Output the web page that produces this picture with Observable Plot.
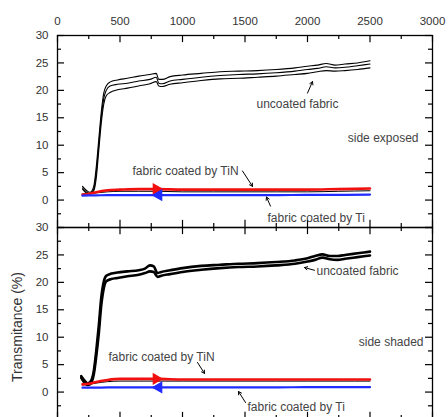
<!DOCTYPE html>
<html>
<head>
<meta charset="utf-8">
<script src="https://cdn.jsdelivr.net/npm/d3@7"></script>
<script src="https://cdn.jsdelivr.net/npm/@observablehq/plot@0.6"></script>
<style>
  html, body { margin: 0; padding: 0; background: #fff; overflow: hidden; }
  #chart { width: 448px; height: 417px; overflow: hidden; }
</style>
</head>
<body>
<div id="chart"></div>
<script>
// ---------- axis ticks ----------
const xMajor = [0, 500, 1000, 1500, 2000, 2500, 3000];
const xMinor = [250, 750, 1250, 1750, 2250, 2750];
const yMajor = [-5, 0, 5, 10, 15, 20, 25, 30];
const yMinor = [-2.5, 2.5, 7.5, 12.5, 17.5, 22.5, 27.5];
const yLabels = [0, 5, 10, 15, 20, 25, 30];
const panels = ["exposed", "shaded"];

// ---------- side exposed ----------
const exposedX = [200,230,260,290,310,330,350,370,390,420,480,560,650,740,790,810,840,900,1000,1150,1300,1450,1600,1750,1900,2000,2080,2150,2220,2300,2400,2500];
const exposedUncoatedA = [2.5,1.8,1.4,2.5,6,11,16,19.5,20.8,21.5,21.9,22.2,22.6,22.9,23.1,22.0,22.0,22.5,22.8,23.1,23.4,23.5,23.6,23.8,24.1,24.4,24.6,24.9,24.6,24.8,25.0,25.4];
const exposedUncoatedB = [2.2,1.5,1.2,2.0,5,10,15,18.5,20.0,20.8,21.1,21.3,21.7,22.0,22.4,21.3,21.2,21.7,22.0,22.4,22.7,22.9,23.0,23.2,23.5,23.8,24.0,24.3,24.1,24.2,24.5,24.8];
const exposedUncoatedC = [2.0,1.3,1.1,1.7,4,9,14,17.5,19.0,19.6,20.1,20.4,20.8,21.2,21.6,20.8,20.7,21.1,21.4,21.8,22.1,22.2,22.4,22.6,22.9,23.1,23.4,23.6,23.5,23.6,23.8,24.1];

const coatedX = [200,250,300,400,500,650,800,1000,1250,1500,1750,2000,2250,2500];
const exposedTiN   = [1.0,1.1,1.4,1.8,1.9,2.0,2.0,1.9,1.9,1.9,1.9,1.9,2.0,2.1];
const exposedTi    = [0.8,0.85,0.85,0.9,0.9,0.9,0.9,0.9,0.9,0.9,0.9,0.95,0.95,1.0];
const exposedBlack = [1.1,1.2,1.3,1.5,1.6,1.6,1.6,1.5,1.5,1.5,1.5,1.5,1.6,1.7];

// ---------- side shaded ----------
const shadedX = [190,220,240,260,290,310,330,350,370,390,430,480,560,650,700,740,770,800,830,900,1000,1150,1300,1450,1600,1750,1900,2000,2060,2120,2180,2240,2300,2400,2500];
const shadedUncoatedUpper = [2.9,2.0,1.6,1.8,3.8,7.5,12,17.2,20.1,21.2,21.6,21.8,22.0,22.2,22.5,23.1,22.9,21.7,21.9,22.2,22.6,23.0,23.2,23.4,23.5,23.7,24.0,24.4,24.8,25.1,24.8,24.8,25.0,25.3,25.6];
const shadedUncoatedLower = [2.6,1.6,1.3,1.4,3.2,6.5,10.6,15.8,18.9,20.2,20.6,20.8,21.1,21.4,21.7,22.0,21.9,21.0,21.2,21.5,21.9,22.3,22.6,22.8,22.9,23.1,23.4,23.8,24.1,24.5,24.2,24.1,24.3,24.6,24.9];
const shadedTiN   = [1.4,1.5,1.8,2.2,2.4,2.4,2.4,2.3,2.3,2.3,2.3,2.3,2.3,2.3];
const shadedTi    = [0.8,0.8,0.8,0.85,0.85,0.85,0.85,0.85,0.85,0.85,0.85,0.9,0.9,0.9];
const shadedBlack = [1.3,1.4,1.6,1.9,2.0,2.0,2.0,2.0,2.0,2.0,2.0,2.0,2.0,2.0];

// ---------- annotations ----------
const labelPanel  = ["exposed","exposed","exposed","exposed","shaded","shaded","shaded","shaded"];
const labelText   = ["uncoated fabric","side exposed","fabric coated by TiN","fabric coated by Ti","uncoated fabric","side shaded","fabric coated by TiN","fabric coated by Ti"];
const labelX      = [1920, 2888, 600, 1680, 2072, 2928, 408, 1520];
const labelY      = [17.5, 11.3, 5.3, -3.3, 22.0, 9.05, 6.4, -2.7];
const labelAnchor = ["middle","end","start","start","start","end","start","start"];

const arrowPanel = ["exposed","exposed","exposed","shaded","shaded","shaded"];
const arrowX1 = [2000, 1480, 1704, 2056, 1120, 1504];
const arrowY1 = [19.5, 5.3, -1.1, 22.2, 5.4, -1.9];
const arrowX2 = [2040, 1560, 1672, 1976, 1176, 1448];
const arrowY2 = [21.6, 2.5, 0.55, 22.7, 3.4, 0.1];

// scan-direction markers
const markerPanel = ["exposed","exposed","shaded","shaded"];
const markerColor = ["red","blue","red","blue"];
const markerX = [790, 810, 790, 810];
const markerY = [2.0, 0.9, 2.4, 0.85];

// ---------- build facet table ----------
const rows = [];
function addLine(panel, series, xs, ys) {
  xs.forEach((x, i) => rows.push({kind: "line", panel, series, x, y: ys[i]}));
}
addLine("exposed", "blackCoated", coatedX, exposedBlack);
addLine("exposed", "uncA", exposedX, exposedUncoatedA);
addLine("exposed", "uncB", exposedX, exposedUncoatedB);
addLine("exposed", "uncC", exposedX, exposedUncoatedC);
addLine("exposed", "TiN", coatedX, exposedTiN);
addLine("exposed", "Ti", coatedX, exposedTi);
addLine("shaded", "blackCoated", coatedX, shadedBlack);
addLine("shaded", "uncU", shadedX, shadedUncoatedUpper);
addLine("shaded", "uncL", shadedX, shadedUncoatedLower);
addLine("shaded", "TiN", coatedX, shadedTiN);
addLine("shaded", "Ti", coatedX, shadedTi);
labelText.forEach((t, i) => rows.push({kind: "label", panel: labelPanel[i], text: t, x: labelX[i], y: labelY[i], anchor: labelAnchor[i]}));
arrowPanel.forEach((p, i) => rows.push({kind: "arrow", panel: p, x1: arrowX1[i], y1: arrowY1[i], x2: arrowX2[i], y2: arrowY2[i]}));
markerPanel.forEach((p, i) => rows.push({kind: "marker", panel: p, color: markerColor[i], x: markerX[i], y: markerY[i]}));

const lineStyle = [
  ["blackCoated", "black", 1],
  ["uncA", "black", 1.1],
  ["uncB", "black", 1.1],
  ["uncC", "black", 1.1],
  ["uncU", "black", 2.6],
  ["uncL", "black", 2.6],
  ["TiN", "#f01010", 2.6],
  ["Ti", "#1f2bff", 2.2]
];

const font = "'Liberation Sans', Arial, Helvetica, sans-serif";

const chart = Plot.plot({
  width: 448,
  height: 440,
  marginTop: 34,
  marginLeft: 57,
  marginRight: 16,
  marginBottom: 21,
  style: {fontFamily: font, fontSize: "11.5px", color: "#333", background: "#fff"},
  facet: {data: rows, y: "panel"},
  fy: {domain: panels, padding: 0, axis: null, label: null},
  x: {domain: [0, 3000], axis: "top", ticks: xMajor, tickFormat: d => String(d), tickSize: 0, tickPadding: 11, label: null},
  y: {domain: [-5, 30], ticks: yLabels, tickFormat: d => String(d), tickSize: 0, tickPadding: 9, label: null},
  marks: [
    // inward tick marks
    Plot.ruleY(yMajor, {y: d => d, x1: () => 0, x2: () => 56, stroke: "black", strokeWidth: 1.2}),
    Plot.ruleY(yMinor, {y: d => d, x1: () => 0, x2: () => 32, stroke: "black", strokeWidth: 1.2}),
    Plot.ruleY(yMajor, {y: d => d, x1: () => 2944, x2: () => 3000, stroke: "black", strokeWidth: 1.2}),
    Plot.ruleY(yMinor, {y: d => d, x1: () => 2968, x2: () => 3000, stroke: "black", strokeWidth: 1.2}),
    Plot.ruleX(xMajor, {x: d => d, y1: () => 30, y2: () => 28.7, stroke: "black", strokeWidth: 1.2}),
    Plot.ruleX(xMinor, {x: d => d, y1: () => 30, y2: () => 29.27, stroke: "black", strokeWidth: 1.2}),
    Plot.ruleX(xMajor, {x: d => d, y1: () => -5, y2: () => -3.7, stroke: "black", strokeWidth: 1.2}),
    Plot.ruleX(xMinor, {x: d => d, y1: () => -5, y2: () => -4.27, stroke: "black", strokeWidth: 1.2}),
    // data lines
    ...lineStyle.map(([s, c, w]) =>
      Plot.line(rows, {filter: d => d.kind === "line" && d.series === s, x: "x", y: "y", stroke: c, strokeWidth: w, curve: "monotone-x"})
    ),
    Plot.dot(rows, {filter: d => d.kind === "marker" && d.color === "red", x: "x", y: "y", symbol: "triangle", rotate: 90, r: 3.6, fill: "#f01010", stroke: "#f01010"}),
    Plot.dot(rows, {filter: d => d.kind === "marker" && d.color === "blue", x: "x", y: "y", symbol: "triangle", rotate: -90, r: 3.6, fill: "#1f2bff", stroke: "#1f2bff"}),
    // annotations
    Plot.arrow(rows, {filter: d => d.kind === "arrow", x1: "x1", y1: "y1", x2: "x2", y2: "y2", stroke: "black", strokeWidth: 1, headLength: 5}),
    ...["start", "middle", "end"].map(a =>
      Plot.text(rows, {filter: d => d.kind === "label" && d.anchor === a, x: "x", y: "y", text: "text", textAnchor: a, fill: "#444", fontSize: 12})
    ),
    Plot.frame({stroke: "black", strokeWidth: 1.3})
  ]
});

document.getElementById("chart").appendChild(chart);

const svg = d3.select(chart);
svg.append("text")
  .attr("transform", "translate(18,327) rotate(-90)")
  .attr("text-anchor", "middle")
  .attr("dominant-baseline", "middle")
  .attr("fill", "#333")
  .style("font-family", font)
  .style("font-size", "14px")
  .text("Transmitance (%)");
svg.append("text")
  .attr("x", 48)
  .attr("y", 427)
  .attr("text-anchor", "end")
  .attr("fill", "#333")
  .style("font-family", font)
  .style("font-size", "11.5px")
  .text("100");
</script>
</body>
</html>
